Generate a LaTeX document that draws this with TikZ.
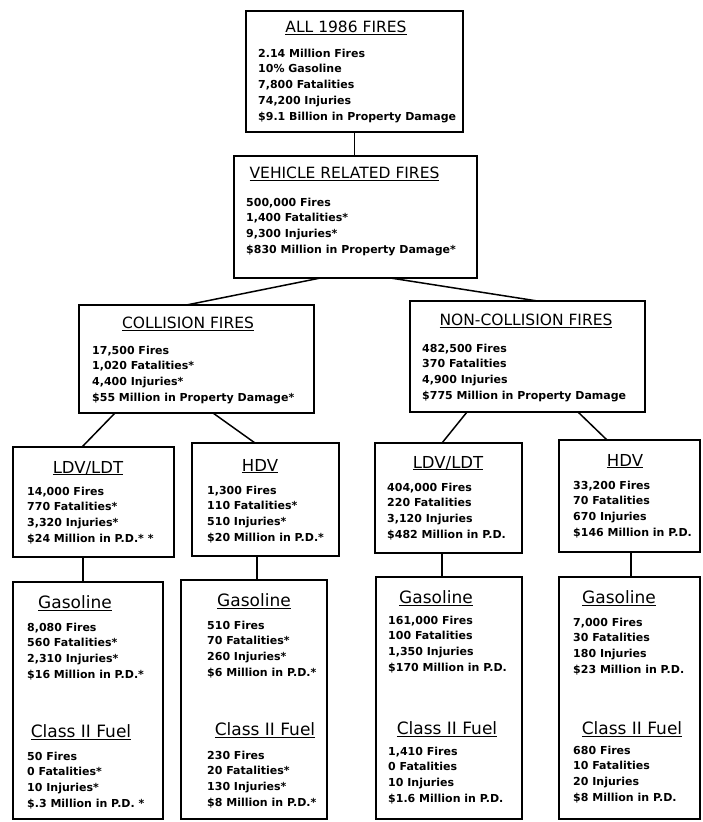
\documentclass[tikz,border=0pt]{standalone}
\usepackage{fontspec}
\setmainfont{DejaVu Sans}
\newcommand\ul[1]{\setbox0\hbox{#1}\rlap{\rule[-2.4pt]{\wd0}{1.1pt}}\box0}
\newcommand\lines[1]{\begin{tabular}{@{}l@{}}#1\end{tabular}}
\tikzset{
  box/.style={draw, line width=1.6pt, rectangle, anchor=north west, outer sep=0pt, inner sep=0pt},
  conn/.style={line width=1.5pt},
  ttl/.style={anchor=base, inner sep=0pt, font=\fontsize{15.5}{18}\selectfont},
  ttlh/.style={anchor=base, inner sep=0pt, font=\fontsize{16.5}{19}\selectfont},
  ttlm/.style={anchor=base, inner sep=0pt, font=\fontsize{17}{20}\selectfont},
  txt/.style={anchor=north west, inner sep=0pt, font=\fontsize{11}{15.8}\selectfont\bfseries},
}
\begin{document}
\begin{tikzpicture}[x=1pt,y=-1pt]
\useasboundingbox (0,0) rectangle (702,822);
\fill[white] (0,0) rectangle (702,822);
% boxes
\node[box, minimum width=217pt, minimum height=121pt] (A) at (246,11) {};
\node[box, minimum width=243pt, minimum height=122pt] (V) at (234,156) {};
\node[box, minimum width=235pt, minimum height=108pt] (C) at (79,305) {};
\node[box, minimum width=235pt, minimum height=111pt] (N) at (410,301) {};
\node[box, minimum width=161pt, minimum height=110pt] (L1) at (13,447) {};
\node[box, minimum width=147pt, minimum height=113pt] (H1) at (192,443) {};
\node[box, minimum width=147pt, minimum height=110pt] (L2) at (375,443) {};
\node[box, minimum width=141pt, minimum height=112pt] (H2) at (559,440) {};
\node[box, minimum width=150pt, minimum height=237pt] (G1) at (13,582) {};
\node[box, minimum width=146pt, minimum height=239pt] (G2) at (181,580) {};
\node[box, minimum width=146pt, minimum height=242pt] (G3) at (376,577) {};
\node[box, minimum width=141pt, minimum height=242pt] (G4) at (559,577) {};
% connectors
\draw[conn] (A.south) -- (A.south |- V.north);
\draw[conn] ([xshift=-35pt]V.south) -- ([xshift=-10pt]C.north);
\draw[conn] ([xshift=35pt]V.south) -- ([xshift=10pt]N.north);
\draw[conn] ([xshift=-81.5pt]C.south) -- ([xshift=-11.5pt]L1.north);
\draw[conn] ([xshift=16.5pt]C.south) -- ([xshift=-10.5pt]H1.north);
\draw[conn] ([xshift=-60.5pt]N.south) -- ([xshift=-6.5pt]L2.north);
\draw[conn] ([xshift=50.5pt]N.south) -- ([xshift=-22.5pt]H2.north);
\draw[conn] ([xshift=-10.5pt]L1.south) -- ([xshift=-10.5pt]L1.south |- G1.north);
\draw[conn] ([xshift=-8.5pt]H1.south) -- ([xshift=-8.5pt]H1.south |- G2.north);
\draw[conn] ([xshift=-6.5pt]L2.south) -- ([xshift=-6.5pt]L2.south |- G3.north);
\draw[conn] ([xshift=1.5pt]H2.south) -- ([xshift=1.5pt]H2.south |- G4.north);
% titles
\node[ttl] (hA) at (346,32.7) {\ul{ALL 1986 FIRES}};
\node[ttl] (hV) at (344.5,178.7) {\ul{VEHICLE RELATED FIRES}};
\node[ttl] (hC) at (188,328.7) {\ul{COLLISION FIRES}};
\node[ttl] (hN) at (526,325.7) {\ul{NON-COLLISION FIRES}};
\node[ttlh] (hL1) at (88,473) {\ul{LDV/LDT}};
\node[ttlh] (hH1) at (260,471) {\ul{HDV}};
\node[ttlh] (hL2) at (448,468) {\ul{LDV/LDT}};
\node[ttlh] (hH2) at (625,466) {\ul{HDV}};
\node[ttlm] (hG1a) at (75,608.2) {\ul{Gasoline}};
\node[ttlm] (hG1b) at (81,737.2) {\ul{Class II Fuel}};
\node[ttlm] (hG2a) at (254,606.2) {\ul{Gasoline}};
\node[ttlm] (hG2b) at (265,735.2) {\ul{Class II Fuel}};
\node[ttlm] (hG3a) at (436,603.2) {\ul{Gasoline}};
\node[ttlm] (hG3b) at (447,734.2) {\ul{Class II Fuel}};
\node[ttlm] (hG4a) at (619,603.2) {\ul{Gasoline}};
\node[ttlm] (hG4b) at (632,734.2) {\ul{Class II Fuel}};
% body texts
\node[txt] (tA) at (258,45.9) {\lines{2.14 Million Fires\\10\% Gasoline\\7,800 Fatalities\\74,200 Injuries\\\$9.1 Billion in Property Damage}};
\node[txt] (tV) at (246,194.9) {\lines{500,000 Fires\\1,400 Fatalities*\\9,300 Injuries*\\\$830 Million in Property Damage*}};
\node[txt] (tC) at (92,342.9) {\lines{17,500 Fires\\1,020 Fatalities*\\4,400 Injuries*\\\$55 Million in Property Damage*}};
\node[txt] (tN) at (422,340.9) {\lines{482,500 Fires\\370 Fatalities\\4,900 Injuries\\\$775 Million in Property Damage}};
\node[txt] (tL1) at (27,483.9) {\lines{14,000 Fires\\770 Fatalities*\\3,320 Injuries*\\\$24 Million in P.D.* *}};
\node[txt] (tH1) at (207,482.9) {\lines{1,300 Fires\\110 Fatalities*\\510 Injuries*\\\$20 Million in P.D.*}};
\node[txt] (tL2) at (387,479.9) {\lines{404,000 Fires\\220 Fatalities\\3,120 Injuries\\\$482 Million in P.D.}};
\node[txt] (tH2) at (573,477.9) {\lines{33,200 Fires\\70 Fatalities\\670 Injuries\\\$146 Million in P.D.}};
\node[txt] (tG1a) at (27,619.9) {\lines{8,080 Fires\\560 Fatalities*\\2,310 Injuries*\\\$16 Million in P.D.*}};
\node[txt] (tG1b) at (27,748.9) {\lines{50 Fires\\0 Fatalities*\\10 Injuries*\\\$.3 Million in P.D. *}};
\node[txt] (tG2a) at (207,617.9) {\lines{510 Fires\\70 Fatalities*\\260 Injuries*\\\$6 Million in P.D.*}};
\node[txt] (tG2b) at (207,747.9) {\lines{230 Fires\\20 Fatalities*\\130 Injuries*\\\$8 Million in P.D.*}};
\node[txt] (tG3a) at (388,612.9) {\lines{161,000 Fires\\100 Fatalities\\1,350 Injuries\\\$170 Million in P.D.}};
\node[txt] (tG3b) at (388,743.9) {\lines{1,410 Fires\\0 Fatalities\\10 Injuries\\\$1.6 Million in P.D.}};
\node[txt] (tG4a) at (573,614.9) {\lines{7,000 Fires\\30 Fatalities\\180 Injuries\\\$23 Million in P.D.}};
\node[txt] (tG4b) at (573,742.9) {\lines{680 Fires\\10 Fatalities\\20 Injuries\\\$8 Million in P.D.}};
\end{tikzpicture}
\end{document}
